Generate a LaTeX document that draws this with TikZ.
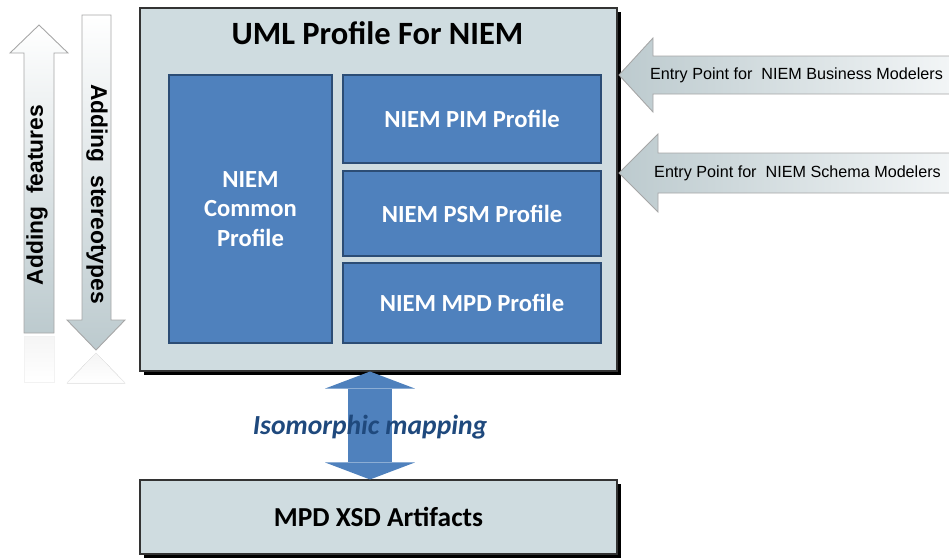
\documentclass[tikz,border=0pt]{standalone}
\usepackage{fontspec}
\setmainfont{Carlito}
\newfontfamily\arialfont{Liberation Sans}
\usetikzlibrary{arrows.meta,shadows}
\definecolor{boxgray}{HTML}{CFDCE0}
\definecolor{niemblue}{HTML}{4F81BD}
\definecolor{niemborder}{HTML}{2C4D75}
\definecolor{mapblue}{HTML}{1F497D}
\definecolor{arrowgray}{HTML}{BCCACE}
\definecolor{arrowlight}{HTML}{F2F5F6}
\newdimen\pxu \pxu=0.02cm

\tikzset{
  outerbox/.style={rectangle,draw=black!80,line width=0.6pt,fill=boxgray,inner sep=0pt,
    general shadow={fill=black,shadow xshift=3.5\pxu,shadow yshift=-3.5\pxu}},
  profilebox/.style={rectangle,draw=niemborder,line width=0.6pt,fill=niemblue,inner sep=0pt,
    text=white,align=center,font=\fontsize{14}{17}\selectfont\bfseries},
  blockarrow/.style={draw=black!35,line width=0.5pt},
  reflection/.style={draw=black!5,line width=0.3pt,top color=black!4,bottom color=white},
  sidetext/.style={font=\arialfont\fontsize{13}{15}\selectfont\bfseries},
  entrytext/.style={font=\arialfont\fontsize{9.2}{11}\selectfont},
  mapping/.style={line width=25.6pt,draw=niemblue,
    {Triangle[width=51.2pt,length=9.7pt,line width=0pt]}-{Triangle[width=51.2pt,length=9.7pt,line width=0pt]}}
}

\begin{document}
\begin{tikzpicture}[x=0.02cm,y=-0.02cm]
\useasboundingbox (0,0) rectangle (949,559);

% profile box and its parts
\node (uml) [outerbox,minimum width=477\pxu,minimum height=363\pxu] at (378.5,189.5) {};
\node (title) [anchor=base] at (377.5,44) {\fontsize{18.5}{20}\selectfont\bfseries UML Profile For NIEM};
\node (common) [profilebox,minimum width=163\pxu,minimum height=268\pxu] at (250.5,209) {NIEM\\Common\\Profile};
\node (pim) [profilebox,minimum width=258\pxu,minimum height=88\pxu] at (472,119) {NIEM PIM Profile};
\node (psm) [profilebox,minimum width=258\pxu,minimum height=85\pxu] at (472,213.5) {NIEM PSM Profile};
\node (mpd) [profilebox,minimum width=258\pxu,minimum height=80\pxu] at (472,303) {NIEM MPD Profile};

% artifacts
\node (xsd) [outerbox,minimum width=477\pxu,minimum height=74\pxu,font=\fontsize{15.6}{18}\selectfont\bfseries] at (378.5,517) {MPD XSD Artifacts};

% mapping arrow
\coordinate (mapx) at (370,0);
\draw [mapping] (uml.south -| mapx) -- (xsd.north -| mapx);
\node (maptext) [anchor=base,text=mapblue,font=\fontsize{15.7}{18}\selectfont\bfseries\itshape] at (370,434) {Isomorphic mapping};

% left arrows
\draw [blockarrow,top color=white,bottom color=arrowgray] (24,333) -- (24,53) -- (10,53) -- (39,25) -- (68,53) -- (54,53) -- (54,333) -- cycle;
\draw [blockarrow,top color=white,bottom color=arrowgray] (82,15) -- (111,15) -- (111,320) -- (125,320) -- (96,350) -- (67,320) -- (82,320) -- cycle;
\fill [reflection] (24,336) rectangle (54,382);
\fill [reflection] (96,353) -- (125,383) -- (67,383) -- cycle;
\node (features) [sidetext,rotate=90] at (37,195) {Adding~ features};
\node (stereo) [sidetext,rotate=-90] at (97,194) {Adding~ stereotypes};

% entry arrows
\draw [blockarrow,left color=arrowgray,right color=arrowlight] (950,56) -- (653,56) -- (653,38) -- (619,75) -- (653,112) -- (653,94) -- (950,94);
\draw [blockarrow,left color=arrowgray,right color=arrowlight] (950,153) -- (658,153) -- (658,134) -- (619,173) -- (658,212) -- (658,193) -- (950,193);
\node (business) [entrytext] at (796.5,75) {Entry Point for~ NIEM Business Modelers};
\node (schema) [entrytext] at (797.5,173) {Entry Point for~ NIEM Schema Modelers};
\end{tikzpicture}
\end{document}
